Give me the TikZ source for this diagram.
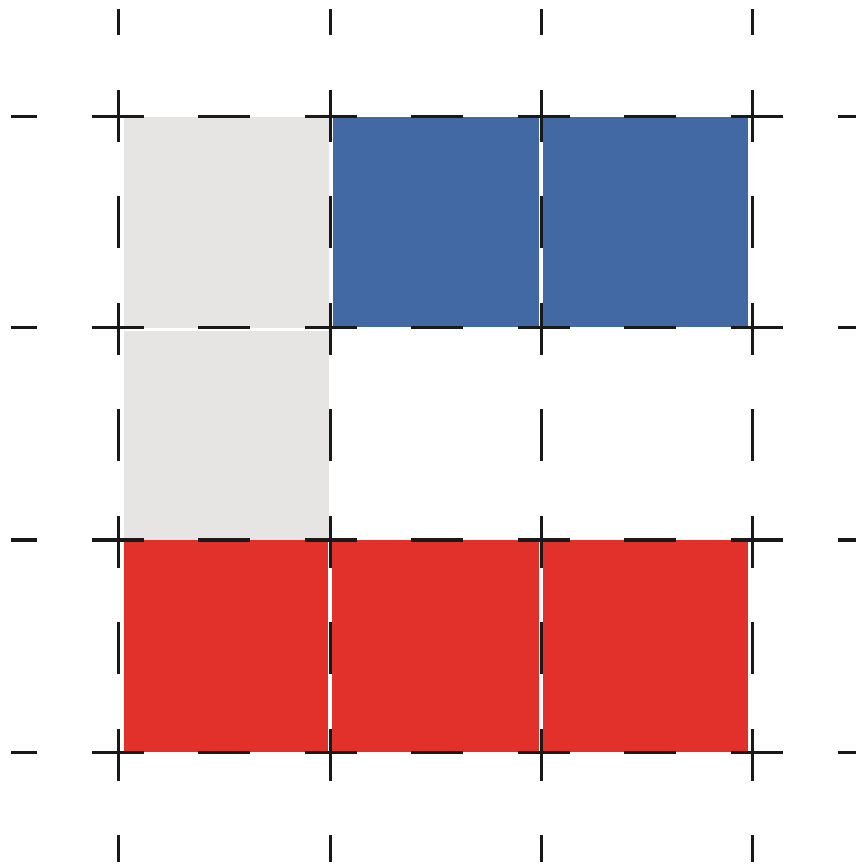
\documentclass[tikz,border=0pt]{standalone}
\definecolor{cellgray}{RGB}{230,229,228}
\definecolor{cellblue}{RGB}{66,105,163}
\definecolor{cellred}{RGB}{226,49,42}
\begin{document}
\begin{tikzpicture}[x=0.01cm,y=-0.01cm,
  gridline/.style={black!90,line width=0.03cm,dash pattern=on 0.52cm off 0.545cm,dash phase=0.26cm},
  cell/.style={draw=none}]
\useasboundingbox[fill=white] (0,0) rectangle (856,865);
% cells
\fill[cellgray] (124,117) rectangle (329,328);
\fill[cellgray] (124,331) rectangle (329,540);
\fill[cellblue] (333,117) rectangle (539,327);
\fill[cellblue] (543,117) rectangle (748,327);
\fill[cellred] (124,540) rectangle (328,752);
\fill[cellred] (332,540) rectangle (539,752);
\fill[cellred] (543,540) rectangle (748,752);
% grid lines
\foreach \x in {118,330,541,752} \draw[gridline] (\x,9) -- (\x,862);
\foreach \y in {117,328,540,752} \draw[gridline] (11,\y) -- (856,\y);
\end{tikzpicture}
\end{document}
